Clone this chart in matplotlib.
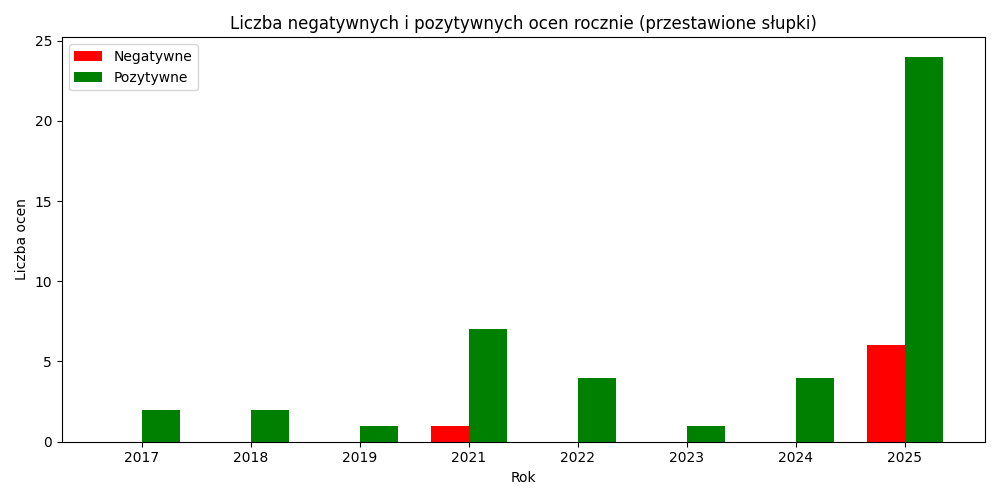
import matplotlib
matplotlib.use("Agg")
import matplotlib.pyplot as plt
import numpy as np

lata = ['2017', '2018', '2019', '2021', '2022', '2023', '2024', '2025']
negatywne = [0, 0, 0, 1, 0, 0, 0, 6]
pozytywne = [2, 2, 1, 7, 4, 1, 4, 24]

x = np.arange(len(lata))
szer = 0.35

fig, ax = plt.subplots(figsize=(10, 5), dpi=100)
ax.bar(x - szer / 2, negatywne, szer, color='red', label='Negatywne')
ax.bar(x + szer / 2, pozytywne, szer, color='green', label='Pozytywne')

ax.set_xticks(x)
ax.set_xticklabels(lata)
ax.set_xlabel('Rok')
ax.set_ylabel('Liczba ocen')
ax.set_title('Liczba negatywnych i pozytywnych ocen rocznie (przestawione słupki)')
ax.legend(loc='upper left')

plt.tight_layout()
plt.savefig('out.png')
